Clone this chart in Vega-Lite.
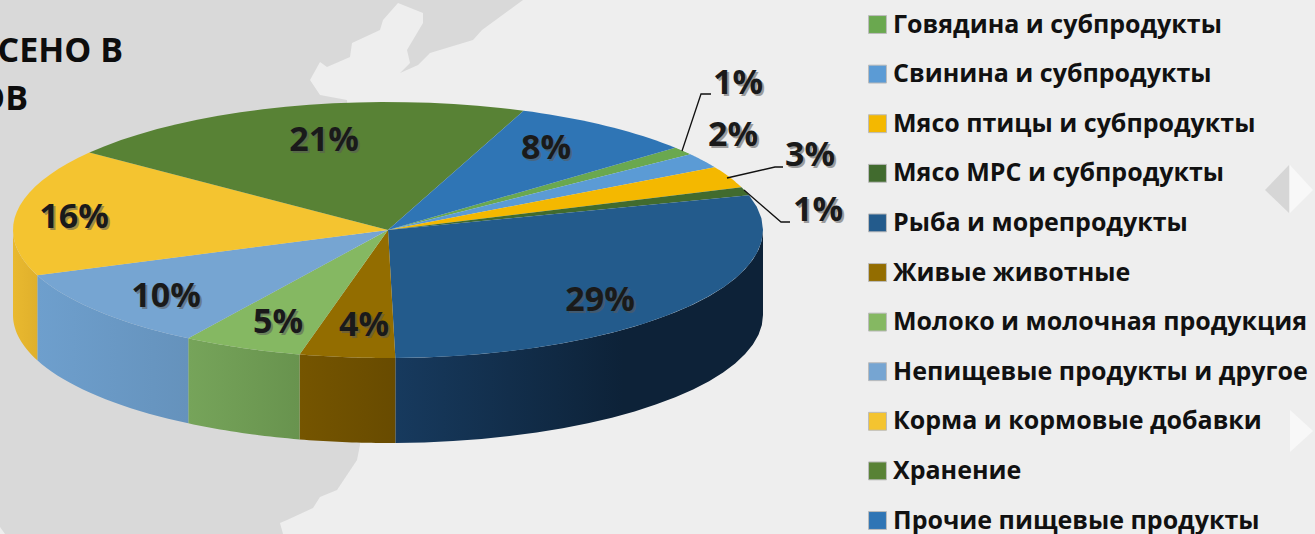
{
"$schema":"https://vega.github.io/schema/vega-lite/v6.json",
"autosize":{"type":"none"},
"width":1315,"height":534,"padding":0,
"background":"#EEEEEE",
"config":{"view":{"stroke":null},"font":"Open Sans"},
"datasets":{
"slices":[
{"ord":0,"cat":"Говядина и субпродукты","value":1.05},
{"ord":1,"cat":"Свинина и субпродукты","value":1.9},
{"ord":2,"cat":"Мясо птицы и субпродукты","value":2.75},
{"ord":3,"cat":"Мясо МРС и субпродукты","value":1.05},
{"ord":4,"cat":"Рыба и морепродукты","value":29.05},
{"ord":5,"cat":"Живые животные","value":4.1},
{"ord":6,"cat":"Молоко и молочная продукция","value":5.15},
{"ord":7,"cat":"Непищевые продукты и другое","value":10.3},
{"ord":8,"cat":"Корма и кормовые добавки","value":16.1},
{"ord":9,"cat":"Хранение","value":20.55},
{"ord":10,"cat":"Прочие пищевые продукты","value":8}
],
"land":[
{"g":"a","i":0,"px":0,"py":0},{"g":"a","i":1,"px":523,"py":0},{"g":"a","i":2,"px":482,"py":30},{"g":"a","i":3,"px":473,"py":40},{"g":"a","i":4,"px":430,"py":53},{"g":"a","i":5,"px":418,"py":65},{"g":"a","i":6,"px":400,"py":73},{"g":"a","i":7,"px":410,"py":63},{"g":"a","i":8,"px":407,"py":50},{"g":"a","i":9,"px":423,"py":23},{"g":"a","i":10,"px":423,"py":13},{"g":"a","i":11,"px":398,"py":3},{"g":"a","i":12,"px":383,"py":20},{"g":"a","i":13,"px":380,"py":30},{"g":"a","i":14,"px":352,"py":43},{"g":"a","i":15,"px":350,"py":57},{"g":"a","i":16,"px":327,"py":67},{"g":"a","i":17,"px":320,"py":62},{"g":"a","i":18,"px":310,"py":80},{"g":"a","i":19,"px":320,"py":95},{"g":"a","i":20,"px":347,"py":100},{"g":"a","i":21,"px":360,"py":445},{"g":"a","i":22,"px":357,"py":460},{"g":"a","i":23,"px":337,"py":490},{"g":"a","i":24,"px":320,"py":497},{"g":"a","i":25,"px":313,"py":508},{"g":"a","i":26,"px":287,"py":520},{"g":"a","i":27,"px":280,"py":523},{"g":"a","i":28,"px":283,"py":534},{"g":"a","i":29,"px":5,"py":534},{"g":"a","i":30,"px":0,"py":527},
{"g":"c","i":0,"px":1265,"py":190},{"g":"c","i":1,"px":1289,"py":165},{"g":"c","i":2,"px":1289,"py":213},
{"g":"d","i":0,"px":1290,"py":165},{"g":"d","i":1,"px":1313,"py":190},{"g":"d","i":2,"px":1290,"py":213},
{"g":"e","i":0,"px":1290,"py":410},{"g":"e","i":1,"px":1313,"py":431},{"g":"e","i":2,"px":1290,"py":452}
],
"titleText":[
{"t":"СЕНО В","px":123,"py":52},
{"t":"ОВ","px":28,"py":100}
]
},
"layer":[
{"data":{"name":"land"},
"mark":{"type":"line","filled":true,"strokeWidth":0},
"encoding":{
"x":{"field":"px","type":"quantitative","scale":{"domain":[0,1315]},"axis":null},
"y":{"field":"py","type":"quantitative","scale":{"domain":[534,0]},"axis":null},
"order":{"field":"i"},
"detail":{"field":"g"},
"fill":{"field":"g","type":"nominal","legend":null,"scale":{"domain":["a","c","d","e"],"range":["#D9D9D9","#D6D6D6","#F8F8F8","#F8F8F8"]}}
}},
{"data":{"name":"titleText"},
"mark":{"type":"text","align":"right","baseline":"middle","fontSize":34,"fontWeight":"bold","font":"Open Sans","color":"#0D0D0D"},
"encoding":{
"x":{"field":"px","type":"quantitative","scale":{"domain":[0,1315]},"axis":null},
"y":{"field":"py","type":"quantitative","scale":{"domain":[534,0]},"axis":null},
"text":{"field":"t"}
}},
{"data":{"name":"slices"},
"transform":[
{"window":[{"op":"sum","field":"value","as":"cum"}],"sort":[{"field":"ord"}]},
{"calculate":"40-(datum.cum-datum.value)*3.6","as":"a0"},
{"calculate":"40-datum.cum*3.6","as":"a1"},
{"calculate":"[0,0.05,0.1,0.15,0.2,0.25,0.3,0.35,0.4,0.45,0.5,0.55,0.6,0.65,0.7,0.75,0.8,0.85,0.9,0.95,1]","as":"fr"},
{"calculate":"[0,1]","as":"s"},
{"flatten":["fr"]},
{"flatten":["s"]},
{"calculate":"min(datum.a0,0)","as":"b0"},
{"calculate":"max(datum.a1,-180)","as":"b1"},
{"filter":"datum.b0>datum.b1"},
{"calculate":"(datum.b0+(datum.b1-datum.b0)*datum.fr)*PI/180","as":"t"},
{"calculate":"388+375*cos(datum.t)","as":"px"},
{"calculate":"230-128*sin(datum.t)+85*datum.s","as":"py"},
{"calculate":"datum.s==0?datum.fr:2-datum.fr","as":"p"}
],
"encoding":{
"x":{"field":"px","type":"quantitative","scale":{"domain":[0,1315]},"axis":null},
"y":{"field":"py","type":"quantitative","scale":{"domain":[534,0]},"axis":null},
"order":{"field":"p"}
},
"layer":[
{"transform":[{"filter":"datum.ord==4"}],"mark":{"type":"line","strokeWidth":0,"fill":{"x1":0,"y1":0,"x2":1,"y2":0,"gradient":"linear","stops":[{"offset":0,"color":"#173A5E"},{"offset":0.62,"color":"#0D2238"},{"offset":1,"color":"#0D2238"}]}}},
{"transform":[{"filter":"datum.ord==5"}],"mark":{"type":"line","strokeWidth":0,"fill":{"x1":0,"y1":0,"x2":1,"y2":0,"gradient":"linear","stops":[{"offset":0,"color":"#755500"},{"offset":1,"color":"#684B00"}]}}},
{"transform":[{"filter":"datum.ord==6"}],"mark":{"type":"line","strokeWidth":0,"fill":{"x1":0,"y1":0,"x2":1,"y2":0,"gradient":"linear","stops":[{"offset":0,"color":"#76A45A"},{"offset":1,"color":"#68934E"}]}}},
{"transform":[{"filter":"datum.ord==7"}],"mark":{"type":"line","strokeWidth":0,"fill":{"x1":0,"y1":0,"x2":1,"y2":0,"gradient":"linear","stops":[{"offset":0,"color":"#6E9FCD"},{"offset":1,"color":"#6592BC"}]}}},
{"transform":[{"filter":"datum.ord==8"}],"mark":{"type":"line","strokeWidth":0,"fill":{"x1":0,"y1":0,"x2":1,"y2":0,"gradient":"linear","stops":[{"offset":0,"color":"#E9B92F"},{"offset":1,"color":"#E0B02C"}]}}}
]},
{"data":{"name":"slices"},
"transform":[
{"window":[{"op":"sum","field":"value","as":"cum"}],"sort":[{"field":"ord"}]},
{"calculate":"40-(datum.cum-datum.value)*3.6","as":"a0"},
{"calculate":"40-datum.cum*3.6","as":"a1"},
{"calculate":"[-1,0,0.05,0.1,0.15,0.2,0.25,0.3,0.35,0.4,0.45,0.5,0.55,0.6,0.65,0.7,0.75,0.8,0.85,0.9,0.95,1]","as":"fr"},
{"flatten":["fr"]},
{"calculate":"(datum.a0+(datum.a1-datum.a0)*datum.fr)*PI/180","as":"t"},
{"calculate":"datum.fr<0?388:388+375*cos(datum.t)","as":"px"},
{"calculate":"datum.fr<0?230:230-128*sin(datum.t)","as":"py"}
],
"mark":{"type":"line","filled":true,"strokeWidth":0},
"encoding":{
"x":{"field":"px","type":"quantitative","scale":{"domain":[0,1315]},"axis":null},
"y":{"field":"py","type":"quantitative","scale":{"domain":[534,0]},"axis":null},
"order":{"field":"fr"},
"fill":{"field":"cat","type":"nominal",
"scale":{"domain":["Говядина и субпродукты","Свинина и субпродукты","Мясо птицы и субпродукты","Мясо МРС и субпродукты","Рыба и морепродукты","Живые животные","Молоко и молочная продукция","Непищевые продукты и другое","Корма и кормовые добавки","Хранение","Прочие пищевые продукты"],
"range":["#6AA84F","#5B9BD5","#F4B800","#416B2E","#235B8C","#936D00","#85B862","#76A5D2","#F4C430","#588235","#2F75B5"]},
"legend":{"orient":"none","legendX":865,"legendY":12,"title":null,"symbolType":"square","symbolSize":320,"symbolOpacity":1,"symbolStrokeColor":"#BBBBBB","symbolStrokeWidth":1,"labelFont":"Open Sans","labelFontWeight":"bold","labelFontSize":25,"labelColor":"#111111","labelLimit":500,"labelOffset":3,"rowPadding":23.6}
}
}},
{"data":{"name":"slices"},
"transform":[
{"calculate":"[738,733,810,818,600,364,278,166,74,324,546][datum.ord]","as":"px"},
{"calculate":"[84,136,156,211,301,326,323,297,218,141,149][datum.ord]","as":"py"},
{"calculate":"round(datum.value)+'%'","as":"lab"}
],
"encoding":{
"x":{"field":"px","type":"quantitative","scale":{"domain":[0,1315]},"axis":null},
"y":{"field":"py","type":"quantitative","scale":{"domain":[534,0]},"axis":null},
"text":{"field":"lab"}
},
"layer":[
{"mark":{"type":"text","align":"center","baseline":"middle","fontSize":34,"fontWeight":"bold","font":"Open Sans","color":"#5A5A5A","opacity":0.55,"dx":2,"dy":2}},
{"mark":{"type":"text","align":"center","baseline":"middle","fontSize":34,"fontWeight":"bold","font":"Open Sans","color":"#1A1A1A"}}
]},
{"data":{"values":[
{"k":"a","i":0,"px":682,"py":151},{"k":"a","i":1,"px":701,"py":94},{"k":"a","i":2,"px":711,"py":94},
{"k":"b","i":0,"px":727,"py":178},{"k":"b","i":1,"px":775,"py":167},{"k":"b","i":2,"px":783,"py":167},
{"k":"c","i":0,"px":744,"py":190},{"k":"c","i":1,"px":781,"py":222},{"k":"c","i":2,"px":790,"py":222}
]},
"mark":{"type":"line","color":"#111111","strokeWidth":1.3},
"encoding":{
"x":{"field":"px","type":"quantitative","scale":{"domain":[0,1315]},"axis":null},
"y":{"field":"py","type":"quantitative","scale":{"domain":[534,0]},"axis":null},
"detail":{"field":"k"},
"order":{"field":"i"}
}}
],
"resolve":{"scale":{"fill":"independent"}}
}
